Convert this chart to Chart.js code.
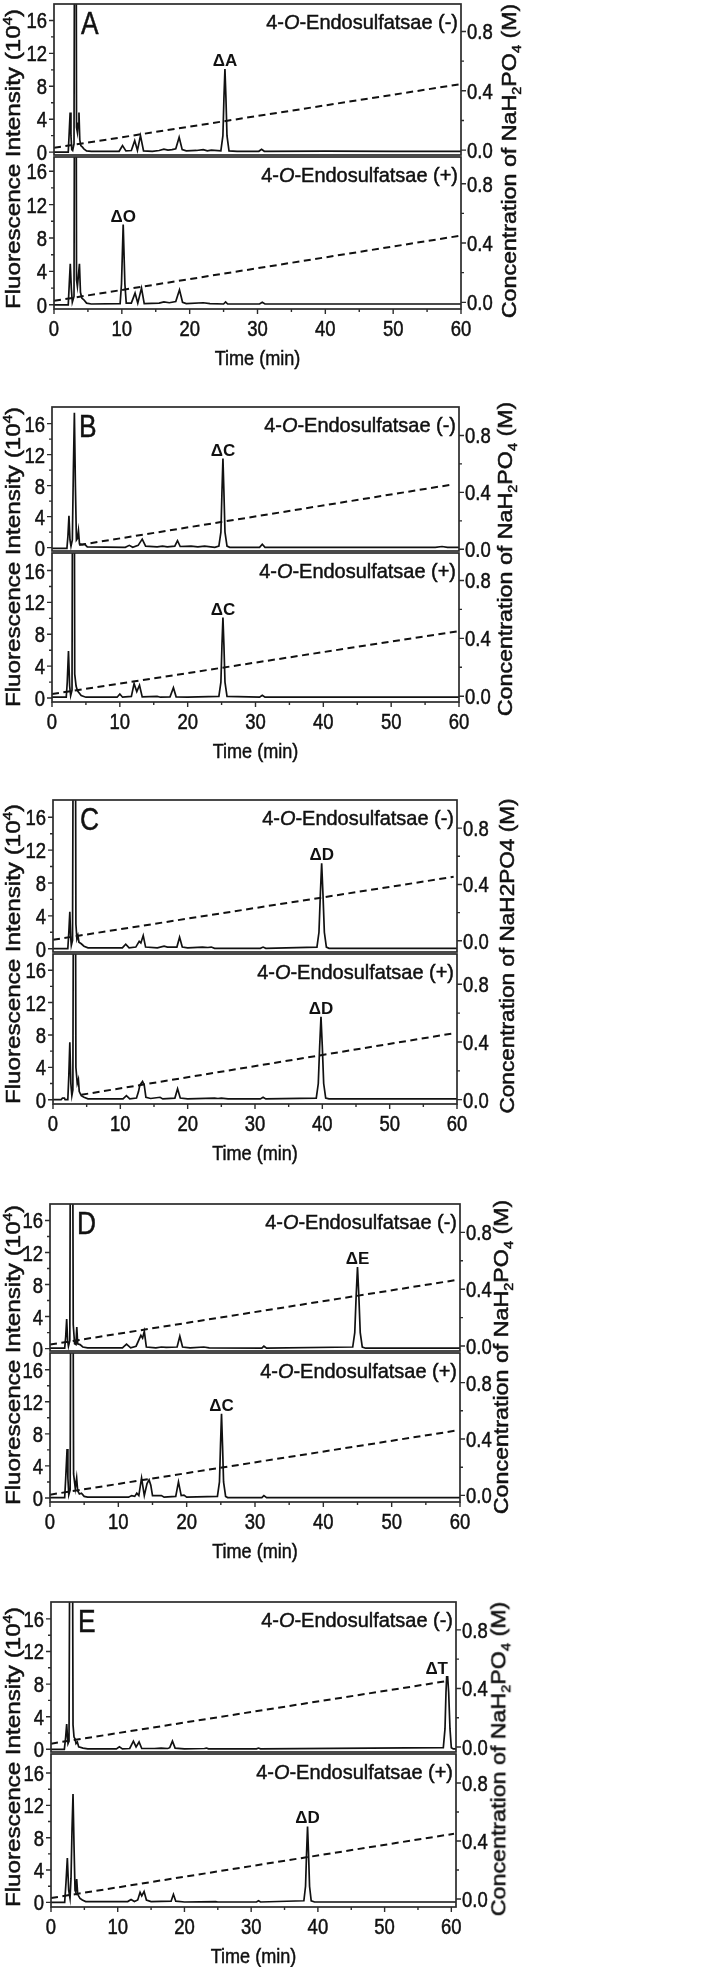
<!DOCTYPE html>
<html>
<head>
<meta charset="utf-8">
<title>4-O-Endosulfatase HPLC traces</title>
<script src="https://cdn.jsdelivr.net/npm/chart.js@4.4.0/dist/chart.umd.min.js"></script>
<style>
    body { margin: 0; background: #fff; }
    #fig { position: relative; width: 720px; height: 1967px; overflow: hidden;
           font-family: 'Liberation Sans', Arial, sans-serif; color: #111; }
    #fig canvas { position: absolute; left: 0; }
    .vt { position: absolute; white-space: nowrap; line-height: 1; transform-origin: 50% 50%;
          -webkit-text-stroke: 0.5px #111; }
    .vt sup, .vt sub { font-size: 0.62em; line-height: 0; }
</style>
</head>
<body>
<div id="fig"></div>
<script>
// ticks
const xTicks = [0, 10, 20, 30, 40, 50, 60];
const xMinorTicks = [5, 15, 25, 35, 45, 55];
const leftTicks = [0, 4, 8, 12, 16];
const leftMinorTicks = [2, 6, 10, 14];
const rightTicks = [0, 0.4, 0.8];
const rightMinorTicks = [0.2, 0.6];

// traces: [time (min), fluorescence (10^4)]
const aMinus = [[0,0],[2.1,0],[2.25,2.5],[2.38,4.8],[2.5,2],[2.62,0.3],[2.75,0.2],[2.95,1],[3.17,80],[3.32,3],[3.45,2.4],[3.55,3.5],[3.68,4.8],[3.8,1.5],[3.95,0.8],[4.2,0.6],[4.4,0.4],[4.8,0.15],[5.5,0.1],[9.6,0.1],[10.1,0.8],[10.6,0.15],[11.4,0.2],[11.9,1.4],[12.3,0.2],[12.75,2.0],[13.2,0.15],[14.5,0.1],[15.5,0.2],[16.2,0.35],[16.8,0.25],[17.4,0.3],[17.95,0.4],[18.45,1.8],[18.9,0.3],[19.5,0.15],[21,0.2],[22,0.3],[22.6,0.15],[23.2,0.25],[24.6,0.15],[24.9,2.0],[25.05,6.5],[25.2,10.1],[25.35,6.5],[25.5,2.0],[25.8,0.15],[27,0.1],[30.2,0.1],[30.6,0.35],[31.0,0.1],[40,0.12],[50,0.1],[60,0.1]];
const aPlus = [[0,0],[2.1,0],[2.25,2.5],[2.4,4.9],[2.55,2],[2.7,0.3],[2.8,0.3],[2.95,1],[3.17,80],[3.32,3],[3.45,2.2],[3.6,3.5],[3.75,4.9],[3.9,1.5],[4.1,0.8],[4.4,0.6],[4.8,0.2],[5.5,0.1],[9.75,0.15],[9.95,2.5],[10.2,9.6],[10.45,2.5],[10.65,0.2],[11.4,0.2],[11.95,1.4],[12.35,0.2],[12.9,2.0],[13.3,0.15],[15.5,0.2],[16.2,0.35],[17,0.25],[17.95,0.4],[18.5,1.8],[18.95,0.3],[19.5,0.15],[22,0.25],[23,0.15],[25,0.1],[25.3,0.35],[25.6,0.1],[30.3,0.1],[30.7,0.3],[31.1,0.1],[60,0.1]];
const bMinus = [[0,-0.1],[2.2,-0.1],[2.35,1.5],[2.5,4.1],[2.65,1],[2.8,0.2],[3.0,1],[3.15,10],[3.3,17.4],[3.45,8],[3.6,1],[3.75,1.2],[3.9,2.2],[4.05,0.5],[4.5,0.4],[4.8,0.45],[5.2,0.1],[10.8,0.05],[11.4,0.3],[11.9,0.05],[12.7,0.3],[13.3,1.1],[13.8,0.2],[15.5,0.1],[16.3,0.2],[17,0.1],[18.1,0.2],[18.5,0.9],[18.9,0.15],[20.5,0.2],[21.5,0.1],[22.5,0.2],[24,0.05],[24.6,0.2],[24.9,2.0],[25.05,7],[25.2,11.5],[25.35,7],[25.5,2.0],[25.8,0.2],[26.2,0.05],[30.6,0.05],[31,0.45],[31.4,0.05],[56.5,0.05],[57.5,0.15],[58.3,0.05],[60,0.05]];
const bPlus = [[0,0.1],[2.1,0.1],[2.25,2],[2.43,5.9],[2.6,1.5],[2.75,0.3],[2.95,1],[3.17,80],[3.35,3],[3.55,1.5],[3.75,0.9],[3.95,0.7],[4.3,0.3],[5,0.1],[9.6,0.1],[10.0,0.5],[10.4,0.1],[11.7,0.2],[12.1,1.8],[12.5,0.8],[12.9,1.6],[13.3,0.15],[15.5,0.2],[16,0.1],[17.4,0.15],[17.9,1.3],[18.3,0.15],[20,0.1],[24.6,0.2],[24.9,2],[25.05,6.5],[25.2,10.1],[25.35,6.5],[25.5,2],[25.8,0.2],[30.6,0.1],[31,0.35],[31.4,0.1],[60,0.1]];
const cMinus = [[0,0],[2.2,0],[2.35,2],[2.5,4.5],[2.62,1.5],[2.72,0.4],[2.9,1],[3.2,80],[3.4,3],[3.55,1.2],[3.7,1.6],[3.85,0.8],[4.2,0.6],[4.6,0.3],[5.2,0.1],[10.3,0.1],[10.8,0.55],[11.3,0.1],[12.3,0.2],[12.8,0.9],[13.05,0.7],[13.4,1.6],[13.75,0.2],[15.5,0.1],[16.5,0.3],[17,0.2],[18.4,0.2],[18.8,1.4],[19.2,0.2],[20,0.1],[22.2,0.2],[23,0.15],[23.5,0.2],[24,0.05],[30.8,0.05],[31.2,0.2],[31.6,0.05],[39.2,0.2],[39.5,2],[39.7,6.5],[39.9,10.4],[40.1,6.5],[40.3,2],[40.6,0.2],[41,0.05],[60,0.05]];
const cPlus = [[0,0],[1.2,0],[1.4,0.2],[1.7,0.2],[1.8,0],[2.2,0],[2.35,3],[2.5,7.1],[2.65,2],[2.8,0.5],[2.95,1.2],[3.2,80],[3.4,4],[3.6,2.0],[3.77,2.5],[3.9,1.0],[4.2,0.5],[4.6,0.3],[5.2,0.1],[10.4,0.1],[10.9,0.5],[11.4,0.1],[12.4,0.2],[12.7,1.0],[12.9,1.8],[13.3,2.25],[13.55,1.8],[13.8,0.3],[14.5,0.15],[15.9,0.3],[16.3,0.1],[18.1,0.2],[18.5,1.35],[18.9,0.2],[20,0.1],[24,0.2],[24.5,0.15],[25,0.2],[26,0.1],[30.8,0.1],[31.2,0.3],[31.6,0.1],[39.1,0.2],[39.4,2],[39.6,6.5],[39.8,10.25],[40.0,6.5],[40.2,2],[40.5,0.2],[41,0.1],[60,0.1]];
const dMinus = [[0,0.05],[2.15,0.05],[2.3,1.5],[2.44,3.7],[2.58,1],[2.7,0.3],[2.9,1],[3.15,80],[3.4,3],[3.6,0.6],[3.8,0.5],[3.92,2.7],[4.05,0.6],[4.4,0.5],[4.8,0.2],[5.5,0.1],[10.6,0.1],[11.2,0.55],[11.8,0.1],[12.6,0.3],[13.3,1.65],[13.55,1.3],[13.8,2.15],[14.1,0.2],[15.5,0.1],[16.3,0.2],[17,0.15],[18.6,0.2],[19.0,1.55],[19.4,0.2],[20.5,0.1],[22.5,0.2],[23.3,0.1],[31,0.05],[31.3,0.3],[31.7,0.05],[44.3,0.2],[44.6,2],[44.8,6.5],[45.0,10.2],[45.2,6.5],[45.4,2],[45.7,0.2],[46.2,0.05],[60,0.05]];
const dPlus = [[0,0.05],[2.15,0.05],[2.3,2.5],[2.5,6.1],[2.62,2.5],[2.75,0.4],[2.95,1],[3.2,80],[3.45,3],[3.7,1.2],[3.9,2.5],[4.05,0.9],[4.3,0.5],[4.6,0.6],[5,0.2],[5.5,0.1],[11.5,0.1],[11.95,0.3],[12.4,0.2],[12.7,0.6],[13.0,0.3],[13.4,2.5],[13.8,0.3],[14.2,1.8],[14.5,2.25],[14.75,1.6],[15.0,0.3],[16.3,0.3],[16.7,0.1],[18.4,0.2],[18.8,2.0],[19.2,0.3],[19.6,0.35],[20,0.1],[24.5,0.2],[24.8,2],[24.95,6.5],[25.1,10.5],[25.25,6.5],[25.4,2],[25.7,0.2],[26,0.05],[31,0.05],[31.3,0.3],[31.7,0.05],[60,0.05]];
const eMinus = [[0,0],[2.0,0],[2.2,1.5],[2.35,3.1],[2.5,1.2],[2.55,0.7],[2.7,1],[3.05,80],[3.3,3],[3.45,1.5],[3.6,1.3],[3.75,0.7],[3.95,0.9],[4.15,0.3],[4.8,0.15],[5.5,0.05],[9.8,0.05],[10.25,0.3],[10.7,0.05],[11.8,0.1],[12.35,1.0],[12.75,0.3],[13.2,0.9],[13.6,0.1],[15.5,0.1],[16.5,0.15],[17.5,0.1],[17.8,0.2],[18.2,1.0],[18.6,0.15],[20,0.05],[23,0.1],[23.3,0.15],[23.6,0.05],[30.8,0.05],[31.1,0.15],[31.4,0.05],[58.8,0.2],[59.05,2.5],[59.2,7],[59.3,8.9],[59.45,8.9],[59.6,7],[59.8,2.5],[60.0,0.2],[60.3,0.05],[60.7,0.05]];
const ePlus = [[0,0],[2.05,0],[2.25,2.5],[2.45,5.5],[2.65,1.5],[2.85,0.5],[3.0,3],[3.15,9],[3.3,13.4],[3.45,7],[3.6,1.5],[3.7,1.3],[3.85,2.9],[4.0,1.0],[4.35,0.5],[4.7,0.3],[5.2,0.1],[11.5,0.1],[12.0,0.35],[12.5,0.1],[13.0,0.3],[13.35,1.25],[13.6,0.8],[13.95,1.35],[14.3,0.3],[15,0.1],[18.0,0.15],[18.35,1.0],[18.7,0.15],[20,0.05],[24.7,0.1],[25,0.05],[30.8,0.05],[31.1,0.2],[31.4,0.05],[37.9,0.2],[38.15,2],[38.3,6],[38.45,9.4],[38.6,6],[38.75,2],[39.0,0.2],[39.5,0.05],[60.7,0.05]];

// NaH2PO4 gradient: [time (min), concentration (M)]
const aMinusGradient = [[0, 0.015], [60, 0.445]];
const aPlusGradient = [[0, 0.01], [60, 0.45]];
const bMinusGradient = [[4, 0.03], [59, 0.455]];
const bPlusGradient = [[0, 0.015], [60, 0.45]];
const cMinusGradient = [[0, 0.007], [59.5, 0.454]];
const cPlusGradient = [[4.2, 0.034], [59.5, 0.46]];
const dMinusGradient = [[0, 0.01], [59.5, 0.465]];
const dPlusGradient = [[0, 0.005], [59.5, 0.46]];
const eMinusGradient = [[0, 0.023], [59.3, 0.45]];
const ePlusGradient = [[0, 0.007], [60.4, 0.45]];

// peak labels: [text, retention time]
const aMinusPeak = ['ΔA', 25.2];
const aPlusPeak = ['ΔO', 10.2];
const bMinusPeak = ['ΔC', 25.2];
const bPlusPeak = ['ΔC', 25.2];
const cMinusPeak = ['ΔD', 39.9];
const cPlusPeak = ['ΔD', 39.8];
const dMinusPeak = ['ΔE', 45.0];
const dPlusPeak = ['ΔC', 25.1];
const eMinusPeak = ['ΔT', 59.35];
const ePlusPeak = ['ΔD', 38.45];

// page layout of the five panels (pixels)
const panels = [
    { letter: 'A', left: 54, right: 461, top: 4,    mid: 156,  bottom: 309,  xMax: 60,   rTitleX: 509, salt: 'NaH<sub>2</sub>PO<sub>4</sub>' },
    { letter: 'B', left: 52, right: 459, top: 407,  mid: 552,  bottom: 702,  xMax: 60,   rTitleX: 505, salt: 'NaH<sub>2</sub>PO<sub>4</sub>' },
    { letter: 'C', left: 53, right: 457, top: 800,  mid: 953,  bottom: 1104, xMax: 60,   rTitleX: 506, salt: 'NaH2PO4' },
    { letter: 'D', left: 50, right: 460, top: 1204, mid: 1352, bottom: 1502, xMax: 60,   rTitleX: 501, salt: 'NaH<sub>2</sub>PO<sub>4</sub>' },
    { letter: 'E', left: 51, right: 456, top: 1602, mid: 1753, bottom: 1907, xMax: 60.7, rTitleX: 498, salt: 'NaH<sub>2</sub>PO<sub>4</sub>' }
];

// one entry per sub-plot: panel index, enzyme, trace, gradient, label, axis ranges
const subplots = [
    [0, '-', aMinus, aMinusGradient, aMinusPeak, [-0.35, 18.0], [-0.033, 0.985]],
    [0, '+', aPlus,  aPlusGradient,  aPlusPeak,  [-0.5, 17.7],  [-0.045, 0.98]],
    [1, '-', bMinus, bMinusGradient, bMinusPeak, [-0.43, 18.15], [-0.012, 1.0]],
    [1, '+', bPlus,  bPlusGradient,  bPlusPeak,  [-0.5, 18.2],  [-0.04, 0.99]],
    [2, '-', cMinus, cMinusGradient, cMinusPeak, [-0.4, 18.1],  [-0.08, 1.0]],
    [2, '+', cPlus,  cPlusGradient,  cPlusPeak,  [-0.53, 18.0], [-0.03, 1.01]],
    [3, '-', dMinus, dMinusGradient, dMinusPeak, [-0.3, 18.06], [-0.035, 1.0]],
    [3, '+', dPlus,  dPlusGradient,  dPlusPeak,  [-0.5, 18.08], [-0.047, 1.01]],
    [4, '-', eMinus, eMinusGradient, eMinusPeak, [-0.33, 18.07], [-0.034, 0.99]],
    [4, '+', ePlus,  ePlusGradient,  ePlusPeak,  [-0.57, 18.36], [-0.055, 1.0]]
];

const FONT = "'Liberation Sans', Arial, sans-serif";
const INK = '#111';
const fig = document.getElementById('fig');

// text with horizontal squeeze, anchored on the baseline; a thin stroke thickens it a bit
function drawText(ctx, s, x, y, font, align, sx, weight) {
    ctx.save();
    ctx.font = font;
    ctx.textBaseline = 'alphabetic';
    ctx.translate(x, y);
    ctx.scale(sx, 1);
    const w = ctx.measureText(s).width;
    const dx = align === 'right' ? -w : align === 'center' ? -w / 2 : 0;
    ctx.fillStyle = INK;
    ctx.fillText(s, dx, 0);
    if (weight) {
        ctx.strokeStyle = INK;
        ctx.lineWidth = weight;
        ctx.strokeText(s, dx, 0);
    }
    ctx.restore();
}

function enzymeLabel(ctx, sign, xRight, y) {
    const parts = [['4-', '21px ' + FONT], ['O', 'italic 21px ' + FONT], ['-Endosulfatsae (' + sign + ')', '21px ' + FONT]];
    const sx = 0.95;
    let total = 0;
    parts.forEach(p => { ctx.font = p[1]; total += ctx.measureText(p[0]).width * sx; });
    let x = xRight - total;
    parts.forEach(p => {
        drawText(ctx, p[0], x, y, p[1], 'left', sx, 0.5);
        ctx.font = p[1];
        x += ctx.measureText(p[0]).width * sx;
    });
}

function makePlugin(p, isTop, sign, trace, peak) {
    return {
        id: 'frame',
        afterDraw(chart) {
            const { ctx, chartArea: a, scales } = chart;
            const xs = scales.x, yl = scales.y, yr = scales.yConc;
            ctx.save();
            ctx.strokeStyle = '#2b2b2b';
            ctx.lineWidth = 1.7;
            ctx.strokeRect(a.left, a.top, a.right - a.left, a.bottom - a.top);
            ctx.lineWidth = 1.4;
            ctx.beginPath();
            leftTicks.forEach(v => { const y = yl.getPixelForValue(v); ctx.moveTo(a.left - 5, y); ctx.lineTo(a.left, y); });
            leftMinorTicks.forEach(v => { const y = yl.getPixelForValue(v); ctx.moveTo(a.left - 3, y); ctx.lineTo(a.left, y); });
            rightTicks.forEach(v => { const y = yr.getPixelForValue(v); ctx.moveTo(a.right, y); ctx.lineTo(a.right + 5, y); });
            rightMinorTicks.forEach(v => { const y = yr.getPixelForValue(v); ctx.moveTo(a.right, y); ctx.lineTo(a.right + 3, y); });
            if (!isTop) {
                xTicks.forEach(v => { const x = xs.getPixelForValue(v); ctx.moveTo(x, a.bottom); ctx.lineTo(x, a.bottom + 5); });
                xMinorTicks.forEach(v => { const x = xs.getPixelForValue(v); ctx.moveTo(x, a.bottom); ctx.lineTo(x, a.bottom + 3); });
            }
            ctx.stroke();

            const tf = '22px ' + FONT;
            leftTicks.forEach(v => drawText(ctx, String(v), a.left - 7, yl.getPixelForValue(v) + 8, tf, 'right', 0.84, 0.5));
            rightTicks.forEach(v => drawText(ctx, v.toFixed(1), a.right + 6, yr.getPixelForValue(v) + 8, tf, 'left', 0.84, 0.5));
            if (!isTop) {
                xTicks.forEach(v => drawText(ctx, String(v), xs.getPixelForValue(v), a.bottom + 27, tf, 'center', 0.84, 0.5));
                drawText(ctx, 'Time (min)', (a.left + a.right) / 2, a.bottom + 56, '21px ' + FONT, 'center', 0.86, 0.5);
            } else {
                drawText(ctx, p.letter, a.left + 27, a.top + 30, '31px ' + FONT, 'left', 0.85, 0.5);
            }
            enzymeLabel(ctx, sign, a.right - 3, a.top + 25);

            // peak label sits just above the tallest point near its retention time
            let best = 0;
            trace.forEach(pt => { if (Math.abs(pt[0] - peak[1]) < 0.5 && pt[1] > best) best = pt[1]; });
            const bf = 'bold 17px ' + FONT;
            ctx.font = bf;
            const w = ctx.measureText(peak[0]).width;
            let cx = xs.getPixelForValue(peak[1]);
            cx = Math.min(cx, a.right - 8 - w / 2);
            drawText(ctx, peak[0], cx, yl.getPixelForValue(best) - 3, bf, 'center', 1, 0);
            ctx.restore();
        }
    };
}

function subplot(def) {
    const [pi, sign, trace, gradient, peak, yRange, rRange] = def;
    const p = panels[pi];
    const isTop = sign === '-';
    const top = isTop ? p.top : p.mid + 1;
    const bottom = isTop ? p.mid - 1 : p.bottom;
    const padT = 6, padB = isTop ? 6 : 70;
    const cv = document.createElement('canvas');
    cv.width = 720;
    cv.height = bottom - top + padT + padB;
    cv.style.top = (top - padT) + 'px';
    cv.style.width = '720px';
    cv.style.height = cv.height + 'px';
    fig.appendChild(cv);

    new Chart(cv, {
        type: 'line',
        data: {
            datasets: [
                {
                    data: trace.map(pt => ({ x: pt[0], y: pt[1] })),
                    yAxisID: 'y', borderColor: INK, borderWidth: 1.7,
                    pointRadius: 0, tension: 0, clip: 0
                },
                {
                    data: gradient.map(pt => ({ x: pt[0], y: pt[1] })),
                    yAxisID: 'yConc', borderColor: INK, borderWidth: 2, borderDash: [7, 4.5],
                    pointRadius: 0, tension: 0, clip: 0
                }
            ]
        },
        options: {
            responsive: false,
            animation: false,
            events: [],
            layout: { padding: { left: p.left, right: 720 - p.right, top: padT, bottom: padB } },
            plugins: { legend: { display: false }, tooltip: { enabled: false } },
            scales: {
                x: { type: 'linear', min: 0, max: p.xMax, display: false },
                y: { type: 'linear', position: 'left', min: yRange[0], max: yRange[1], display: false },
                yConc: { type: 'linear', position: 'right', min: rRange[0], max: rRange[1], display: false }
            }
        },
        plugins: [makePlugin(p, isTop, sign, trace, peak)]
    });
}

function verticalTitle(html, cx, cy, length, size) {
    const el = document.createElement('div');
    el.className = 'vt';
    el.style.fontSize = size + 'px';
    el.innerHTML = html;
    fig.appendChild(el);
    const w = el.offsetWidth, h = el.offsetHeight;
    el.style.left = (cx - w / 2) + 'px';
    el.style.top = (cy - h / 2) + 'px';
    el.style.transform = 'rotate(-90deg) scaleX(' + (length / w) + ')';
}

subplots.forEach(subplot);

panels.forEach(p => {
    const cy = (p.top + p.bottom) / 2;
    verticalTitle('Fluorescence Intensity (10<sup>4</sup>)', 13, cy + 2, 300, 20);
    verticalTitle('Concentration of ' + p.salt + ' (M)', p.rTitleX, cy + 4, 315, 20);
});
</script>
</body>
</html>
